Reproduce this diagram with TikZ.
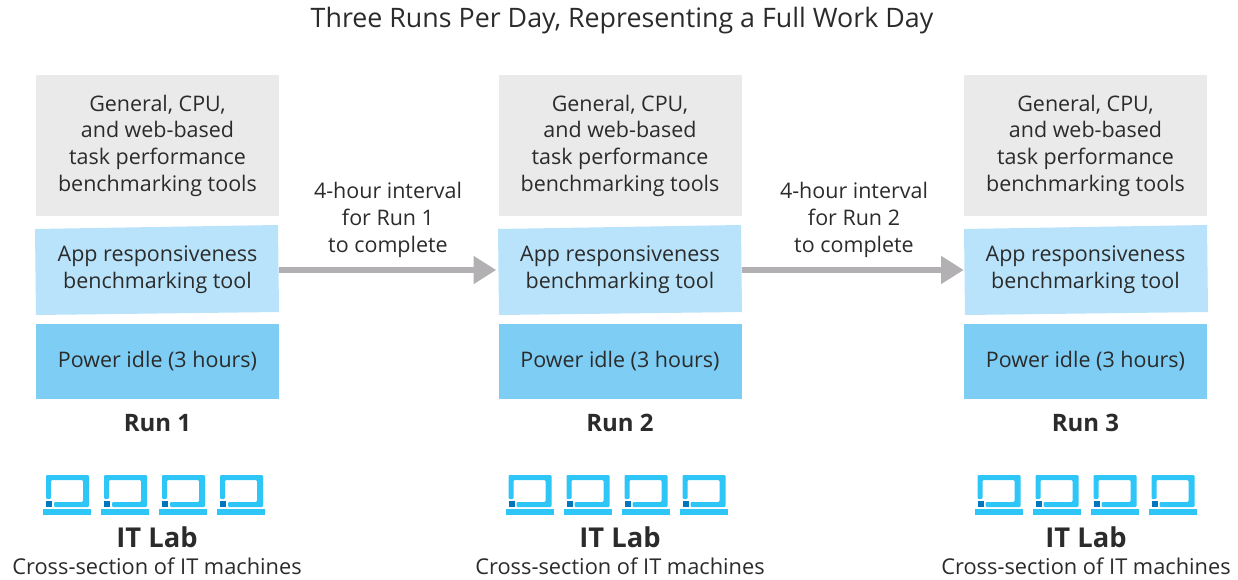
\documentclass[tikz,border=0pt]{standalone}
\usepackage{xcolor}
\usepackage{fontspec}
\setmainfont{Open Sans}
\usepackage{tikz}
\usetikzlibrary{shapes, arrows.meta, positioning}
\definecolor{inkgray}{HTML}{2B2B2B}
\definecolor{boxgray}{HTML}{EAEAEA}
\definecolor{boxlight}{HTML}{B8E3FA}
\definecolor{boxmid}{HTML}{7DCDF4}
\definecolor{lapcyan}{HTML}{2EC5F7}
\definecolor{lapdark}{HTML}{0076BE}
\definecolor{arrowgray}{HTML}{B2B0B2}

\begin{document}
\begin{tikzpicture}
  [
    x=0.75pt, y=-0.75pt,
    every node/.style={text=inkgray, align=center, font=\fontsize{16.1}{20}\selectfont},
    Tool/.style={fill=boxgray, minimum width=182.25pt, minimum height=105.75pt, inner sep=0pt},
    App/.style={minimum width=182.25pt, minimum height=66pt, inner sep=0pt},
    Idle/.style={fill=boxmid, minimum width=182.25pt, minimum height=56.25pt, inner sep=0pt},
    Slant/.style={fill=boxlight},
    Run/.style={font=\fontsize{18}{22}\selectfont\bfseries},
    Lab/.style={font=\fontsize{20.5}{24}\selectfont\bfseries},
    Note/.style={inner sep=0pt, font=\fontsize{16.35}{20}\selectfont},
    Flow/.style={-{Triangle[length=17pt, width=20pt]}, draw=arrowgray, line width=4.5pt},
    laptop/.pic={
      \fill[lapcyan, rounded corners=0.8pt] (0,-40) -- (0,-16) -- (5,-16) -- (5,-35) -- (37,-35) -- (37,-13) -- (8,-13)
        -- (8,-8) -- (43,-8) -- (43,-40) -- cycle;
      \fill[lapdark] (0,-14) rectangle (6,-8);
      \fill[lapcyan] (-3,-6) rectangle (45,0);
    }
  ]
  \useasboundingbox (0,0) rectangle (1238,580);

  % Title
  \node (title) at (622,21) {\fontsize{20.1}{24}\selectfont Three Runs Per Day, Representing a Full Work Day};

  % Slanted boxes
  \fill[Slant] (35,229) -- (278,225) -- (279,312) -- (36,315) -- cycle;
  \fill[Slant] (498,229) -- (741,225) -- (742,312) -- (499,315) -- cycle;
  \fill[Slant] (964,229) -- (1207,225) -- (1208,312) -- (965,315) -- cycle;

  % Run 1
  \node[Tool] (tool1) at (157.5,145.5) {General, CPU,\\and web-based\\task performance\\benchmarking tools};
  \node[App] (app1) at (157.5,270) {App responsiveness\\benchmarking tool};
  \node[Idle] (idle1) at (157.5,361.5) {\raisebox{-1.5pt}{Power idle (3 hours)}};
  \node[Run] (run1) at (157.5,423) {Run 1};
  \node[Lab] (lab1) at (157,537.5) {IT Lab};
  \node[Note] (sec1) at (157,566.5) {Cross-section of IT machines};

  % Run 2
  \node[Tool] (tool2) at (620,145.5) {General, CPU,\\and web-based\\task performance\\benchmarking tools};
  \node[App] (app2) at (620,270) {App responsiveness\\benchmarking tool};
  \node[Idle] (idle2) at (620,361.5) {\raisebox{-1.5pt}{Power idle (3 hours)}};
  \node[Run] (run2) at (620,423) {Run 2};
  \node[Lab] (lab2) at (620,537.5) {IT Lab};
  \node[Note] (sec2) at (620,566.5) {Cross-section of IT machines};

  % Run 3
  \node[Tool] (tool3) at (1085.5,145.5) {General, CPU,\\and web-based\\task performance\\benchmarking tools};
  \node[App] (app3) at (1085.5,270) {App responsiveness\\benchmarking tool};
  \node[Idle] (idle3) at (1085.5,361.5) {\raisebox{-1.5pt}{Power idle (3 hours)}};
  \node[Run] (run3) at (1085.5,423) {Run 3};
  \node[Lab] (lab3) at (1086,537.5) {IT Lab};
  \node[Note] (sec3) at (1086,566.5) {Cross-section of IT machines};

  % Intervals
  \node (gap1) at (388,220) {4-hour interval\\for Run 1\\to complete};
  \node (gap2) at (854,220) {4-hour interval\\for Run 2\\to complete};

  % Laptops
  \pic at (46,515) {laptop};
  \pic at (104,515) {laptop};
  \pic at (162,515) {laptop};
  \pic at (220,515) {laptop};
  \pic at (508.5,515) {laptop};
  \pic at (566.5,515) {laptop};
  \pic at (624.5,515) {laptop};
  \pic at (682.5,515) {laptop};
  \pic at (977.5,515) {laptop};
  \pic at (1035.5,515) {laptop};
  \pic at (1093.5,515) {laptop};
  \pic at (1151.5,515) {laptop};

  % Lines
  \path [Flow, shorten >=1.5pt] (app1) -- (app2);
  \path [Flow] (app2) -- (app3);

\end{tikzpicture}
\end{document}
